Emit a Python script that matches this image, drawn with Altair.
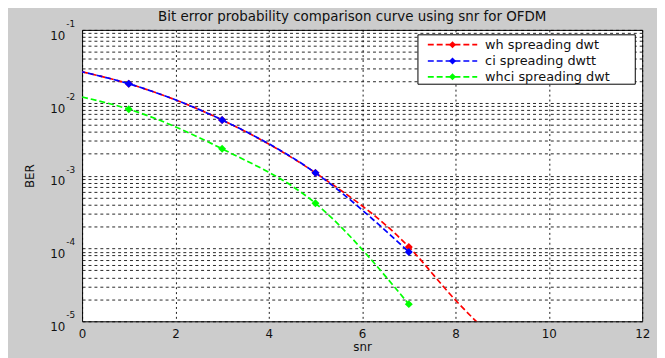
import altair as alt
import pandas as pd

series = ["wh spreading dwt", "ci spreading dwtt", "whci spreading dwt"]
colors = ["#ff0000", "#0000ff", "#00ff00"]
dash_offsets = [0, 3, 0]

wh_snr = [0, 1, 3, 5, 7, 8, 9]
wh_ber = [0.0266, 0.0182, 0.0058, 0.00109, 1.05e-4, 1.95e-5, 4.5e-6]
ci_snr = [0, 1, 3, 5, 7]
ci_ber = [0.0266, 0.0182, 0.0058, 0.00109, 8.95e-5]
whci_snr = [0, 1, 3, 5, 7]
whci_ber = [0.0120, 0.00816, 0.00233, 4.16e-4, 1.72e-5]
marker_snr = [1, 3, 5, 7]

x_ticks = [0, 2, 4, 6, 8, 10, 12]
decades = [1e-5, 1e-4, 1e-3, 1e-2, 1e-1]
exponents = ["-5", "-4", "-3", "-2", "-1"]
y_grid = [m * d for d in decades[:-1] for m in range(1, 10)] + [1e-1]
title_text = "Bit error probability comparison curve using snr for OFDM"

FONT = "DejaVu Sans"
TXT = "#111111"
W, H = 567, 295

xscale = alt.Scale(domain=[0, 12], nice=False, zero=False)
yscale = alt.Scale(type="log", domain=[1e-5, 1e-1], nice=False)

x_enc = alt.X("snr:Q", scale=xscale, axis=alt.Axis(
    values=x_ticks, grid=True, gridDash=[2, 3], gridColor="black", gridOpacity=0.9,
    ticks=False, domain=False, labelFont=FONT, labelFontSize=12, labelColor=TXT,
    labelPadding=7, labelFlush=False, format="d", title="snr", titleFont=FONT,
    titleFontSize=12, titleFontWeight="normal", titleColor=TXT, titlePadding=3))
y_enc = alt.Y("ber:Q", scale=yscale, axis=alt.Axis(
    values=y_grid, grid=True, gridDash=[3, 3], gridColor="black", gridOpacity=0.85,
    labels=False, ticks=False, domain=False, title="BER", titleFont=FONT,
    titleFontSize=12, titleFontWeight="normal", titleColor=TXT,
    titleX=-53, titleY=H / 2, titleAngle=-90, titleAlign="center", titleBaseline="middle"))

data_sets = [(wh_snr, wh_ber), (ci_snr, ci_ber), (whci_snr, whci_ber)]
layers = []
for (xs, ys), name, col, off in zip(data_sets, series, colors, dash_offsets):
    df = pd.DataFrame({"snr": xs, "ber": ys, "series": name})
    line = alt.Chart(df).mark_line(color=col, strokeDash=[6, 3], strokeDashOffset=off,
                                   strokeWidth=1.7, interpolate="monotone",
                                   clip=True).encode(x=x_enc, y=y_enc)
    pts = alt.Chart(df[df["snr"].isin(marker_snr)]).mark_point(
        shape="diamond", filled=True, size=65, color=col, opacity=1).encode(x=x_enc, y=y_enc)
    layers += [line, pts]

dec_df = pd.DataFrame({"ber": decades, "exp": exponents, "base": ["10"] * len(decades)})
base_lbl = alt.Chart(dec_df).mark_text(align="right", baseline="middle", dy=6, font=FONT,
                                       fontSize=12, color=TXT).encode(
    x=alt.value(-17), y=alt.Y("ber:Q", scale=yscale), text="base:N")
exp_lbl = alt.Chart(dec_df).mark_text(align="left", baseline="middle", dy=-6, font=FONT,
                                      fontSize=9, color=TXT).encode(
    x=alt.value(-16), y=alt.Y("ber:Q", scale=yscale), text="exp:N")
layers += [base_lbl, exp_lbl]

one = pd.DataFrame({"label": [title_text]})
layers.append(alt.Chart(one).mark_text(align="center", baseline="middle", font=FONT,
                                       fontSize=13.6, color=TXT).encode(
    x=alt.value(W / 2 - 10), y=alt.value(-13), text="label:N"))

# legend box
layers.append(alt.Chart(one).mark_rect(fill="white", stroke="black", strokeWidth=1).encode(
    x=alt.value(340), x2=alt.value(560), y=alt.value(5), y2=alt.value(55)))
rows = [15, 31.5, 47.5]
for name, col, yy in zip(series, colors, rows):
    ldf = pd.DataFrame({"label": [name]})
    layers.append(alt.Chart(ldf).mark_rule(color=col, strokeDash=[6, 3], strokeWidth=1.7).encode(
        x=alt.value(350), x2=alt.value(400), y=alt.value(yy)))
    layers.append(alt.Chart(ldf).mark_point(shape="diamond", filled=True, size=50, color=col,
                                            opacity=1).encode(x=alt.value(375), y=alt.value(yy)))
    layers.append(alt.Chart(ldf).mark_text(align="left", baseline="middle", font=FONT,
                                           fontSize=13, color=TXT).encode(
        x=alt.value(408), y=alt.value(yy), text="label:N"))

chart = alt.layer(*layers).properties(
    width=W, height=H,
    background="#cccccc",
    padding={"left": 75, "top": 20, "right": 15, "bottom": 35},
    autosize="none",
).configure_view(stroke="black", strokeWidth=1, fill="white")

chart.save("out.html", embed_options={"renderer": "svg", "actions": False})
